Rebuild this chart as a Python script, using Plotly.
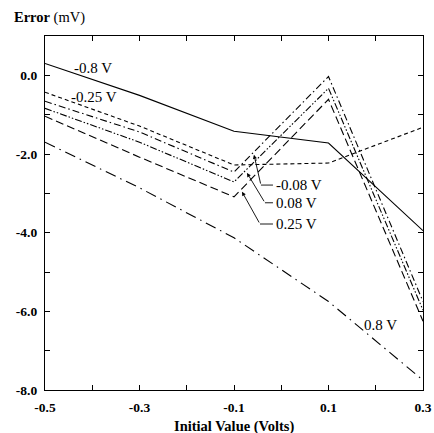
import plotly.graph_objects as go

# ---- data ----
initial_value = [-0.5, -0.3, -0.1, 0.1, 0.3]
err_m080 = [0.30, -0.51, -1.42, -1.72, -3.95]    # -0.8 V
err_m025 = [-0.43, -1.29, -2.28, -2.23, -1.32]   # -0.25 V
err_m008 = [-0.66, -1.44, -2.46, -0.03, -5.75]   # -0.08 V
err_p008 = [-0.84, -1.70, -2.71, -0.33, -5.97]   # 0.08 V
err_p025 = [-1.04, -2.08, -3.09, -0.61, -6.25]   # 0.25 V
err_p080 = [-1.70, -2.86, -4.13, -5.75, -7.75]   # 0.8 V

series_names = ["-0.8 V", "-0.25 V", "-0.08 V", "0.08 V", "0.25 V", "0.8 V"]
series_values = [err_m080, err_m025, err_m008, err_p008, err_p025, err_p080]
series_dash = ["solid", "4px,3px", "7px,3px,1.5px,3px", "7px,2px,1.5px,2px,1.5px,2px",
               "8px,4px", "11px,5px,1.5px,5px"]

x_tick_vals = [-0.5, -0.3, -0.1, 0.1, 0.3]
x_tick_text = ["-0.5", "-0.3", "-0.1", "0.1", "0.3"]
y_tick_vals = [0, -2, -4, -6, -8]
y_tick_text = ["0.0", "-2.0", "-4.0", "-6.0", "-8.0"]

FONT = "Liberation Serif"
TICK_SIZE = 13.5
LABEL_SIZE = 15

fig = go.Figure()
for name, vals, dash in zip(series_names, series_values, series_dash):
    fig.add_trace(go.Scatter(x=initial_value, y=vals, mode="lines", name=name,
                             line=dict(color="black", width=1.1, dash=dash),
                             showlegend=False, hoverinfo="skip"))

# leader lines for the middle curves: (tip, bend, end) in data units
leaders = [
    ("-0.08 V", (-0.0577, -2.02), (-0.043, -2.79), (-0.0175, -2.79)),
    ("0.08 V", (-0.0725, -2.48), (-0.0345, -3.24), (-0.0175, -3.24)),
    ("0.25 V", (-0.083, -2.96), (-0.045, -3.78), (-0.0175, -3.78)),
]
annotations = []
for text, tip, bend, end in leaders:
    fig.add_trace(go.Scatter(x=[bend[0], end[0]], y=[bend[1], end[1]], mode="lines",
                             line=dict(color="black", width=0.9), showlegend=False,
                             hoverinfo="skip"))
    annotations.append(dict(x=tip[0], y=tip[1], ax=bend[0], ay=bend[1],
                            xref="x", yref="y", axref="x", ayref="y",
                            text="", showarrow=True, arrowhead=2, arrowsize=0.9,
                            arrowwidth=0.9, arrowcolor="black", standoff=0))
    annotations.append(dict(x=end[0] + 0.003, y=end[1], xref="x", yref="y",
                            text=text, showarrow=False, xanchor="left",
                            font=dict(family=FONT, size=LABEL_SIZE, color="black")))

annotations += [
    dict(x=-0.442, y=0.19, xref="x", yref="y", text="-0.8 V", showarrow=False,
         xanchor="left", font=dict(family=FONT, size=LABEL_SIZE, color="black")),
    dict(x=-0.450, y=-0.55, xref="x", yref="y", text="-0.25 V", showarrow=False,
         xanchor="left", font=dict(family=FONT, size=LABEL_SIZE, color="black")),
    dict(x=0.170, y=-6.35, xref="x", yref="y", text="0.8 V", showarrow=False,
         xanchor="left", font=dict(family=FONT, size=LABEL_SIZE, color="black")),
    dict(x=(12 - 45) / 378, y=1 + (36 - 18) / 354, xref="paper", yref="paper",
         text="<b>Error</b> (mV)", showarrow=False, xanchor="left", yanchor="middle",
         font=dict(family=FONT, size=14.5, color="black")),
    dict(x=0.5, y=-(426 - 390) / 354, xref="paper", yref="paper",
         text="<b>Initial Value (Volts)</b>", showarrow=False, xanchor="center",
         yanchor="middle", font=dict(family=FONT, size=14.5, color="black")),
]

fig.update_layout(
    template="none",
    width=434, height=433,
    margin=dict(l=45, r=11, t=36, b=43, autoexpand=False),
    paper_bgcolor="white", plot_bgcolor="white",
    annotations=annotations,
    font=dict(family=FONT, size=TICK_SIZE, color="black"),
)
fig.update_xaxes(range=[-0.5, 0.3], tickvals=x_tick_vals, ticktext=x_tick_text,
                 ticks="inside", ticklen=5, tickwidth=1, tickcolor="black",
                 minor=dict(dtick=0.1, tick0=0, ticks="inside", ticklen=5,
                            tickwidth=1, tickcolor="black"),
                 showline=True, linecolor="black", linewidth=1.2, mirror="ticks",
                 showgrid=False, zeroline=False, ticklabeloverflow="allow",
                 ticklabelstandoff=5, automargin=False,
                 tickfont=dict(family=FONT, size=TICK_SIZE, color="black", weight="bold"))
fig.update_yaxes(range=[-8, 1.0], tickvals=y_tick_vals, ticktext=y_tick_text,
                 ticks="inside", ticklen=5, tickwidth=1, tickcolor="black",
                 minor=dict(dtick=1, tick0=0, ticks="inside", ticklen=5,
                            tickwidth=1, tickcolor="black"),
                 showline=True, linecolor="black", linewidth=1.2, mirror="ticks",
                 showgrid=False, zeroline=False, ticklabelstandoff=4,
                 ticklabeloverflow="allow", automargin=False,
                 tickfont=dict(family=FONT, size=TICK_SIZE, color="black", weight="bold"))

fig.write_html("out.html", config={"displayModeBar": False},
               post_script="document.body.style.margin='0';document.body.style.overflow='hidden';")
